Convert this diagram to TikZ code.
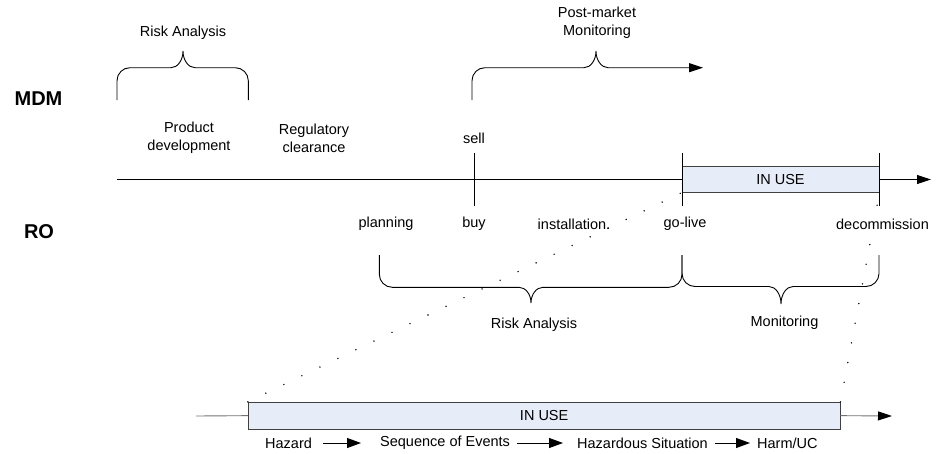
\documentclass[tikz,border=0pt]{standalone}
\usepackage{fontspec}
\setmainfont{Liberation Sans}
\usetikzlibrary{arrows.meta}

\definecolor{usefill}{RGB}{230,236,248}
\definecolor{boxline}{RGB}{64,64,64}

\tikzset{
  lbl/.style={inner sep=0pt, align=center, font=\fontsize{14.5}{18}\selectfont},
  actor/.style={inner sep=0pt, font=\bfseries\fontsize{20}{24}\selectfont},
  usebox/.style={draw=boxline, fill=usefill, line width=0.9pt, inner sep=0pt,
                 font=\fontsize{14.5}{18}\selectfont},
  axis/.style={line width=0.9pt},
  tipped/.style={-{Triangle[length=14pt,width=9pt,color=black]}},
  smalltip/.style={line width=0.9pt, -{Triangle[length=14pt,width=10pt]}},
  bracestyle/.style={line width=0.9pt},
  dots/.style={line width=1.6pt, line cap=round, dash pattern=on 0pt off 20pt},
}

% curly brace: #1 left leg x, #2 right leg x, #3 tip x,
% #4 leg end y, #5 bar y, #6 tip y, #7 leg direction (+1 down, -1 up)
\newcommand{\timebrace}[7]{%
  \draw[bracestyle] (#1,#4) -- (#1,{#5+#7*13})
    .. controls (#1,{#5+#7*5.8}) and ({#1+5.8},#5) .. ({#1+13},#5)
    -- ({#3-12},#5)
    .. controls ({#3-5.4},#5) and (#3,{#6+0.552*(#5-#6)}) .. (#3,#6)
    .. controls (#3,{#6+0.552*(#5-#6)}) and ({#3+5.4},#5) .. ({#3+12},#5)
    -- ({#2-13},#5)
    .. controls ({#2-5.8},#5) and (#2,{#5+#7*5.8}) .. (#2,{#5+#7*13})
    -- (#2,#4);
}

\begin{document}
\begin{tikzpicture}[x=1pt,y=-1pt]
\useasboundingbox (0,0) rectangle (937,453);

% actors
\node[actor] (mdm) at (38.5,98.5) {MDM};
\node[actor] (ro)  at (39,231.5) {RO};

% manufacturer phase labels
\node[lbl] (ra-top) at (183,33) {Risk Analysis};
\node[lbl] (pmm) at (597,23) {Post-market\\Monitoring};
\node[lbl] (prod) at (189,138) {Product\\development};
\node[lbl] (reg) at (314,138) {Regulatory\\clearance};
\node[lbl] (sell) at (474,138) {sell};

% operator milestones
\node[lbl] (plan) at (386,224) {planning};
\node[lbl] (buy) at (474,224) {buy};
\node[lbl] (inst) at (574,224) {installation.};
\node[lbl] (golive) at (685,224) {go-live};
\node[lbl] (decom) at (882.5,224) {decommission};
\node[lbl] (ra-bot) at (534,325) {Risk Analysis};
\node[lbl] (mon) at (784.5,323) {Monitoring};

% main time line
\node[usebox, minimum width=197pt, minimum height=25.6pt] (inuse-top) at (780.5,179.5) {IN USE};
\coordinate (tl-start) at (117,179.5);
\coordinate (tl-end) at (931,179.5);
\draw[axis] (tl-start) -- (inuse-top.west);
\draw[axis, tipped] (inuse-top.east) -- (tl-end);

% milestone ticks
\coordinate (sell-a) at (474,153);
\coordinate (sell-b) at (474,206);
\coordinate (live-a) at (682,153);
\coordinate (live-b) at (682,206);
\coordinate (dec-a) at (879,153);
\coordinate (dec-b) at (879,206);
\draw[axis] (sell-a) -- (sell-b);
\draw[axis] (live-a) -- (live-b);
\draw[axis] (dec-a) -- (dec-b);

% braces above the time line
\timebrace{117}{248.3}{183}{100}{67.7}{51}{1}
\draw[bracestyle] (472,100) -- (472,80.7)
  .. controls (472,73.5) and (477.8,67.7) .. (485,67.7)
  -- (584,67.7)
  .. controls (590.6,67.7) and (596,60.2) .. (596,51)
  .. controls (596,60.2) and (601.4,67.7) .. (608,67.7)
  -- (690,67.7);
\coordinate (pmm-end) at (703,67.7);
\draw[bracestyle, tipped] (689,67.7) -- (pmm-end);

% braces below the time line
\timebrace{379.3}{682}{531}{255}{287.3}{303}{-1}
\timebrace{682}{879}{781}{255}{286.5}{304}{-1}

% expanded use period
\node[usebox, minimum width=591.7pt, minimum height=26.7pt] (inuse-bot) at (544.15,415.65) {IN USE};
\coordinate (bl-start) at (196,416);
\coordinate (bl-end) at (892,416);
\draw[axis, draw=black!55] (bl-start) -- (inuse-bot.west);
\draw[axis, draw=black!55, tipped] (inuse-bot.east) -- (bl-end);

% zoom lines between the two use periods
\draw[dots] (inuse-bot.north west) -- (inuse-top.south west);
\draw[dots] (inuse-bot.north east) -- (inuse-top.south east);

% causal chain
\node[lbl, anchor=west] (haz) at (265,443) {Hazard};
\node[lbl, anchor=west] (seq) at (380,443) {Sequence of Events};
\node[lbl, anchor=west] (sit) at (577,443) {Hazardous Situation};
\node[lbl, anchor=west] (harm) at (757,443) {Harm/UC};
\draw[smalltip, shorten <=11pt, shorten >=19pt] (haz.east) -- (seq.west);
\draw[smalltip, shorten <=7pt, shorten >=14pt] (seq.east) -- (sit.west);
\draw[smalltip, shorten <=7pt, shorten >=7pt] (sit.east) -- (harm.west);
\end{tikzpicture}
\end{document}
